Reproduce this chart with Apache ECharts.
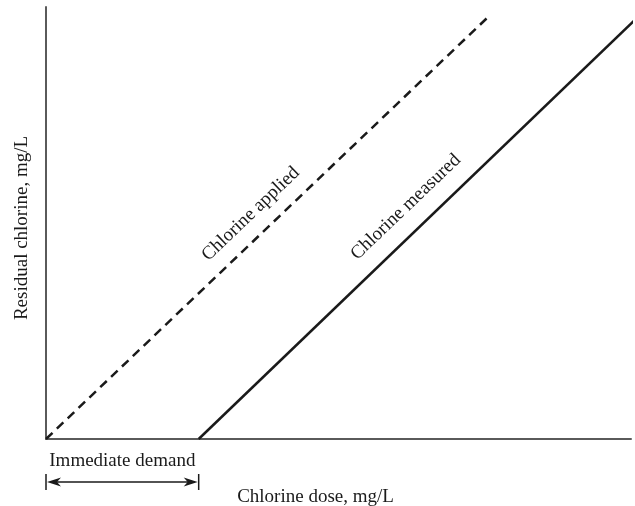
<!DOCTYPE html>
<html>
<head>
<meta charset="utf-8">
<script src="https://cdn.jsdelivr.net/npm/echarts@6/dist/echarts.min.js"></script>
<style>
html,body{margin:0;padding:0;background:#fff;}
#main{width:635px;height:506px;}
</style>
</head>
<body>
<div id="main"></div>
<script>
// Data (arbitrary units)
var appliedX = [0, 75.9];
var appliedY = [0, 98.1];
var measuredX = [26.1, 100.5];
var measuredY = [0, 96.8];
var demandRange = [0, 26.1];
var labelApplied = 'Chlorine applied';
var labelMeasured = 'Chlorine measured';
var labelDemand = 'Immediate demand';
var xName = 'Chlorine dose, mg/L';
var yName = 'Residual chlorine, mg/L';
var appliedLabelAt = [35.0, 52.1];
var measuredLabelAt = [61.5, 53.7];

var FONT = '"Liberation Serif", "DejaVu Serif", serif';
var FS = 19;
var chart = echarts.init(document.getElementById('main'), null, {renderer: 'canvas'});

function pairs(xs, ys) { return xs.map(function (x, i) { return [x, ys[i]]; }); }

chart.setOption({
  animation: false,
  backgroundColor: '#fff',
  grid: {left: 46, right: 4, top: 7, bottom: 67, containLabel: false, outerBoundsMode: 'none'},
  xAxis: {
    type: 'value', min: 0, max: 100,
    name: xName, nameLocation: 'middle', nameGap: 49,
    nameTextStyle: {fontFamily: FONT, fontSize: FS, color: '#1a1a1a', padding: [0, 46, 0, 0]},
    axisLine: {show: true, onZero: false, lineStyle: {color: '#5a5a5a', width: 2}},
    axisTick: {show: false}, axisLabel: {show: false}, splitLine: {show: false}
  },
  yAxis: {
    type: 'value', min: 0, max: 100,
    name: yName, nameLocation: 'middle', nameGap: 14,
    nameTextStyle: {fontFamily: FONT, fontSize: FS, color: '#1a1a1a', padding: [0, 10, 0, 0]},
    axisLine: {show: true, onZero: false, lineStyle: {color: '#5a5a5a', width: 2}},
    axisTick: {show: false}, axisLabel: {show: false}, splitLine: {show: false}
  },
  series: [
    {
      type: 'line', data: pairs(appliedX, appliedY), symbol: 'none', clip: false,
      lineStyle: {color: '#1a1a1a', width: 2.5, type: [9, 6]}
    },
    {
      type: 'line', data: pairs(measuredX, measuredY), symbol: 'none', clip: false,
      lineStyle: {color: '#1a1a1a', width: 2.5}
    }
  ]
});

var pA = chart.convertToPixel({gridIndex: 0}, appliedLabelAt);
var pM = chart.convertToPixel({gridIndex: 0}, measuredLabelAt);
var d0 = chart.convertToPixel({gridIndex: 0}, [demandRange[0], 0]);
var d1 = chart.convertToPixel({gridIndex: 0}, [demandRange[1], 0]);
var rot = 43.7 * Math.PI / 180;
var ay = d0[1] + 43;
var ah = 15, aw = 4.5;
var ink = '#1a1a1a';
var font = FS + 'px ' + FONT;

chart.setOption({
  graphic: [
    {type: 'text', x: pA[0], y: pA[1], rotation: rot,
      style: {text: labelApplied, font: font, fill: ink, align: 'center', verticalAlign: 'middle'}},
    {type: 'text', x: pM[0], y: pM[1], rotation: rot,
      style: {text: labelMeasured, font: font, fill: ink, align: 'center', verticalAlign: 'middle'}},
    {type: 'text', x: (d0[0] + d1[0]) / 2, y: d0[1] + 22,
      style: {text: labelDemand, font: font, fill: ink, align: 'center', verticalAlign: 'middle'}},
    {type: 'line', shape: {x1: d0[0] + 4, y1: ay, x2: d1[0] - 4, y2: ay}, style: {stroke: ink, lineWidth: 1.5}},
    {type: 'line', shape: {x1: d0[0], y1: ay - 8, x2: d0[0], y2: ay + 8}, style: {stroke: ink, lineWidth: 1.5}},
    {type: 'line', shape: {x1: d1[0], y1: ay - 8, x2: d1[0], y2: ay + 8}, style: {stroke: ink, lineWidth: 1.5}},
    {type: 'polygon', shape: {points: [[d0[0] + 1, ay], [d0[0] + ah, ay - aw], [d0[0] + ah - 4, ay], [d0[0] + ah, ay + aw]]}, style: {fill: ink}},
    {type: 'polygon', shape: {points: [[d1[0] - 1, ay], [d1[0] - ah, ay - aw], [d1[0] - ah + 4, ay], [d1[0] - ah, ay + aw]]}, style: {fill: ink}}
  ]
});
</script>
</body>
</html>
